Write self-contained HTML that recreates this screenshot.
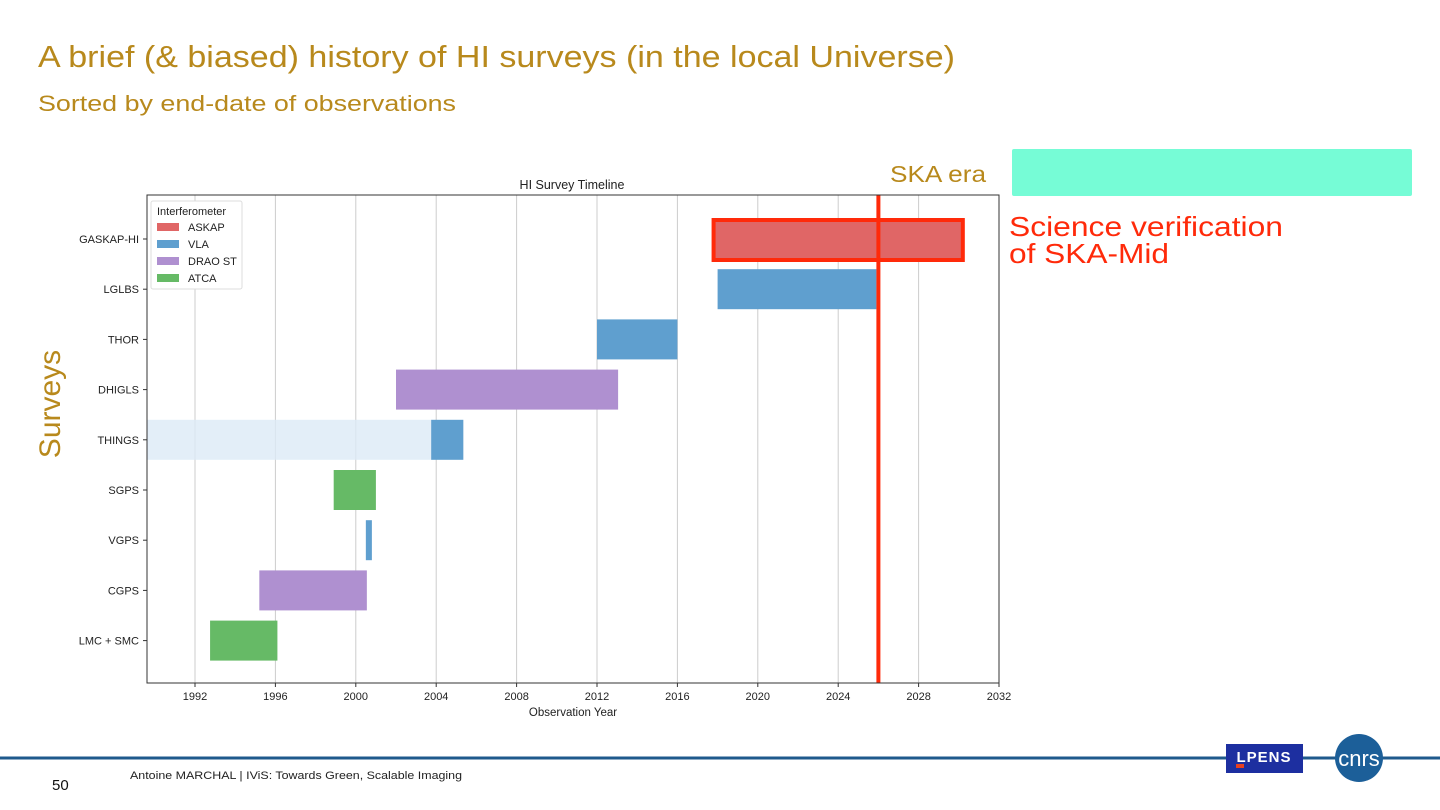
<!DOCTYPE html>
<html><head><meta charset="utf-8"><style>
html,body{margin:0;padding:0;background:#fff;width:1440px;height:810px;overflow:hidden;font-family:"Liberation Sans",sans-serif}
</style></head><body>
<svg id="s" width="1440" height="810" xmlns="http://www.w3.org/2000/svg">
<text x="38" y="67" font-size="31" fill="#B8891C" textLength="917" lengthAdjust="spacingAndGlyphs">A brief (&amp; biased) history of HI surveys (in the local Universe)</text>
<text x="38" y="111" font-size="22" fill="#B8891C" textLength="418" lengthAdjust="spacingAndGlyphs">Sorted by end-date of observations</text>
<text x="60" y="404" font-size="30" fill="#B8891C" transform="rotate(-90 60 404)" text-anchor="middle">Surveys</text>
<text x="890" y="182" font-size="23" fill="#B8891C" textLength="96" lengthAdjust="spacingAndGlyphs">SKA era</text>
<rect x="1012" y="149" width="400" height="47" rx="2" fill="#76FCD6"/>
<text x="1009" y="236" font-size="28" fill="#FF2A0A" textLength="274" lengthAdjust="spacingAndGlyphs">Science verification</text>
<text x="1009" y="263" font-size="28" fill="#FF2A0A" textLength="160" lengthAdjust="spacingAndGlyphs">of SKA-Mid</text>
<text x="572" y="189" font-size="12.5" fill="#222" text-anchor="middle">HI Survey Timeline</text>
<g id="chart"></g>
<rect x="147" y="195" width="852" height="488" fill="none" stroke="#333" stroke-width="1"/>
<text x="573" y="716" font-size="11.5" fill="#222" text-anchor="middle">Observation Year</text>
<g>
<rect x="151" y="201" width="91" height="88" fill="#fff" stroke="#ddd" rx="2"/>
<text x="157" y="215" font-size="11" fill="#222">Interferometer</text>
<rect x="157" y="223" width="22" height="8" fill="#E06666"/><text x="188" y="231" font-size="11" fill="#222">ASKAP</text>
<rect x="157" y="240" width="22" height="8" fill="#5F9FCF"/><text x="188" y="248" font-size="11" fill="#222">VLA</text>
<rect x="157" y="257" width="22" height="8" fill="#AF90D0"/><text x="188" y="265" font-size="11" fill="#222">DRAO ST</text>
<rect x="157" y="274" width="22" height="8" fill="#66BA66"/><text x="188" y="282" font-size="11" fill="#222">ATCA</text>
</g>
<line x1="0" y1="758" x2="1440" y2="758" stroke="#1F5A8C" stroke-width="3"/>
<text x="52" y="790" font-size="15" fill="#111">50</text>
<text x="130" y="779" font-size="11" fill="#222" textLength="332" lengthAdjust="spacingAndGlyphs">Antoine MARCHAL  | IViS: Towards Green, Scalable Imaging</text>
<rect x="1226" y="744" width="77" height="29" fill="#1D2FA0"/>
<text x="1264" y="762" font-size="15" font-weight="bold" fill="#fff" text-anchor="middle" letter-spacing="1">LPENS</text>
<rect x="1236" y="764" width="8" height="4" fill="#E84020"/>
<circle cx="1359" cy="758" r="24" fill="#1C5F99"/>
<text x="1359" y="766" font-size="22" fill="#fff" text-anchor="middle">cnrs</text>
</svg>
<script>
const surveys=["GASKAP-HI","LGLBS","THOR","DHIGLS","THINGS","SGPS","VGPS","CGPS","LMC + SMC"];
const starts=[2017.8,2018.0,2012.0,2002.0,2003.75,1998.9,2000.5,1995.2,1992.75];
const ends=[2030.2,2025.9,2016.0,2013.05,2005.35,2001.0,2000.8,2000.55,1996.1];
const instruments=["ASKAP","VLA","VLA","DRAO ST","VLA","ATCA","VLA","DRAO ST","ATCA"];
const xTicks=[1992,1996,2000,2004,2008,2012,2016,2020,2024,2028,2032];
const skaYear=2026;
const colors={"ASKAP":"#E06666","VLA":"#5F9FCF","DRAO ST":"#AF90D0","ATCA":"#66BA66"};
const NS="http://www.w3.org/2000/svg";
const g=document.getElementById('chart');
const X=y=>195+(y-1992)*(999-195)/40;
const Y=i=>239+i*50.2;
function mk(t,a){const e=document.createElementNS(NS,t);for(const k in a)e.setAttribute(k,a[k]);g.appendChild(e);return e;}
xTicks.forEach(t=>{
 const l=mk('line',{x1:X(t),x2:X(t),y1:195,y2:683,stroke:'#ccc','stroke-width':1});
 
 
 mk('line',{x1:X(t),x2:X(t),y1:683,y2:687,stroke:'#333'});
 const tx=mk('text',{x:X(t),y:700,'font-size':11,fill:'#222','text-anchor':'middle'});tx.textContent=t;
 
 
});
const hb=mk('rect',{x:147,y:Y(4)-20,width:X(starts[4])-147,height:40,fill:'#DCEAF6',opacity:0.8});


surveys.forEach((s,i)=>{
 mk('line',{x1:143,x2:147,y1:Y(i),y2:Y(i),stroke:'#333'});
 const tx=mk('text',{x:139,y:Y(i)+4,'font-size':11,fill:'#222','text-anchor':'end'});tx.textContent=s;
 
 
 const r=mk('rect',{x:X(starts[i]),y:Y(i)-20,width:X(ends[i])-X(starts[i]),height:40,fill:colors[instruments[i]]});
 
 
});
const hl=mk('rect',{x:X(starts[0]),y:Y(0)-19,width:X(ends[0])-X(starts[0]),height:40,fill:'none',stroke:'#FF2A0A','stroke-width':4});


const sl=mk('line',{x1:X(skaYear),x2:X(skaYear),y1:195,y2:683,stroke:'#FF2A0A','stroke-width':4});


</script>
</body></html>
